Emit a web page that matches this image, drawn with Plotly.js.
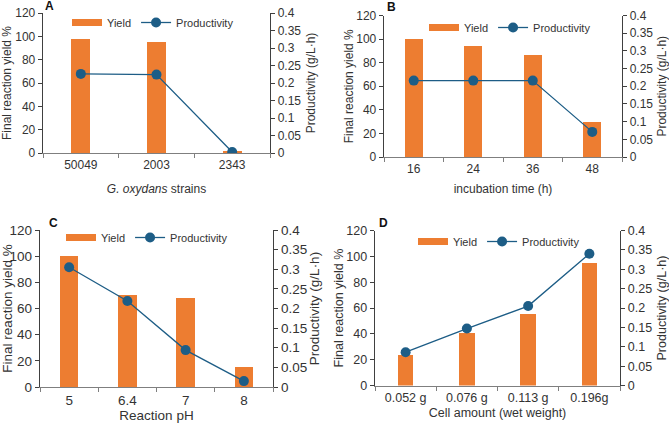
<!DOCTYPE html>
<html>
<head>
<meta charset="utf-8">
<script src="https://cdn.plot.ly/plotly-3.0.1.min.js"></script>
<style>html,body{margin:0;padding:0;background:#fff}#chart{width:669px;height:423px}</style>
</head>
<body>
<div id="chart"></div>
<script>
// ---- data ----
const catsA = ['50049', '2003', '2343'];
const yieldA = [97.7, 95.0, 1.5];
const prodA = [0.226, 0.224, 0.003];

const catsB = ['16', '24', '36', '48'];
const yieldB = [99.8, 94.4, 86.5, 29.5];
const prodB = [0.216, 0.216, 0.216, 0.071];

const catsC = ['5', '6.4', '7', '8'];
const yieldC = [100.2, 70.7, 67.7, 15.3];
const prodC = [0.305, 0.219, 0.094, 0.015];

const catsD = ['0.052 g', '0.076 g', '0.113 g', '0.196g'];
const yieldD = [23.5, 40.8, 55.2, 94.6];
const prodD = [0.086, 0.147, 0.205, 0.340];

const panelLabels = ['A', 'B', 'C', 'D'];
const xTitles = ['<i>G. oxydans</i> strains', 'incubation time (h)', 'Reaction pH', 'Cell amount (wet weight)'];
const yTitle = 'Final reaction yield %';
const y2Title = 'Productivity (g/L·h)';
const seriesNames = ['Yield', 'Productivity'];

// ---- style ----
const ORANGE = '#ED7D31';
const BLUE = '#1D5D86';
const FONT = 'Liberation Sans, Arial, sans-serif';

const W = 669, H = 423;
const px = v => v / W;
const py = v => 1 - v / H;

// plot areas in pixels [x0,x1,yTop,yBottom]
const boxes = [
  [43, 270, 13, 153],
  [384, 622, 15.5, 157],
  [40, 273, 230, 387],
  [375, 620, 230.5, 385.5]
];
const barWidths = [0.25, 0.3, 0.32, 0.25];
const fontSizes = [12, 12, 13.5, 12.5];
const xStandoff = [14, 10, 4, 4];
const yLStandoff = [6, 0, 6, 0];
const yRStandoff = [6, 6, 3, 6];
// legend [left px, top px]
const legendPos = [[67, 8], [424, 13], [61, 223], [413, 227]];
// panel label positions [left px, center y px]
const labelPos = [[43, 6], [385, 7], [47, 223], [377, 223]];

const panels = [
  [catsA, yieldA, prodA],
  [catsB, yieldB, prodB],
  [catsC, yieldC, prodC],
  [catsD, yieldD, prodD]
];

const data = [];
const layout = {
  width: W, height: H,
  margin: {l: 0, r: 0, t: 0, b: 0},
  paper_bgcolor: '#fff', plot_bgcolor: 'rgba(0,0,0,0)',
  font: {family: FONT, color: '#333', size: 12},
  showlegend: true,
  annotations: [],
  bargap: 0
};

panels.forEach((p, i) => {
  const [cats, yv, pv] = p;
  const n = i + 1;
  const xa = n === 1 ? 'x' : 'x' + n;
  const yl = (2 * i + 1 === 1) ? 'y' : 'y' + (2 * i + 1);
  const yr = 'y' + (2 * i + 2);
  const lg = n === 1 ? 'legend' : 'legend' + n;
  const fs = fontSizes[i];
  const b = boxes[i];

  data.push({
    type: 'bar', x: cats, y: yv, xaxis: xa, yaxis: yl, name: seriesNames[0],
    marker: {color: ORANGE, line: {width: 0}}, width: barWidths[i],
    showlegend: false, legendgroup: 'yield' + n, hoverinfo: 'skip'
  });
  // legend key for the bars (wide flat swatch, as in the original)
  data.push({
    type: 'scatter', mode: 'lines', x: [null], y: [null], xaxis: xa, yaxis: yl,
    name: seriesNames[0], line: {color: ORANGE, width: 7},
    legend: lg, legendgroup: 'yield' + n, hoverinfo: 'skip'
  });
  data.push({
    type: 'scatter', mode: 'lines+markers', x: cats, y: pv, xaxis: xa, yaxis: yr,
    name: seriesNames[1], line: {color: BLUE, width: 1.3},
    marker: {color: BLUE, size: 10}, legend: lg, hoverinfo: 'skip'
  });

  const xKey = n === 1 ? 'xaxis' : 'xaxis' + n;
  const ylKey = (2 * i + 1 === 1) ? 'yaxis' : 'yaxis' + (2 * i + 1);
  const yrKey = 'yaxis' + (2 * i + 2);

  layout[xKey] = {
    type: 'category', domain: [px(b[0]), px(b[1])], anchor: yl,
    showline: true, linecolor: '#7f7f7f', linewidth: 1.3,
    ticks: 'outside', tickson: 'boundaries', ticklen: 4, tickcolor: '#7f7f7f',
    showgrid: false, zeroline: false, range: [-0.5, cats.length - 0.5],
    tickfont: {size: fs, color: '#333'},
    title: {text: xTitles[i], font: {size: fs, color: '#333'}, standoff: xStandoff[i]},
    fixedrange: true
  };
  layout[ylKey] = {
    domain: [py(b[3]), py(b[2])], anchor: xa, range: [0, 120], dtick: 20,
    showline: true, linecolor: '#404040', linewidth: 1.3,
    ticks: 'outside', ticklen: 4, tickcolor: '#404040',
    showgrid: false, zeroline: false,
    tickfont: {size: fs, color: '#333'},
    title: {text: yTitle, font: {size: fs, color: '#333'}, standoff: yLStandoff[i]},
    fixedrange: true
  };
  layout[yrKey] = {
    overlaying: yl, side: 'right', anchor: xa, range: [0, 0.4], dtick: 0.05,
    showline: true, linecolor: '#404040', linewidth: 1.3,
    ticks: 'outside', ticklen: 4, tickcolor: '#404040',
    showgrid: false, zeroline: false,
    tickfont: {size: fs, color: '#333'},
    title: {text: y2Title, font: {size: fs, color: '#333'}, standoff: yRStandoff[i]},
    fixedrange: true
  };
  layout[lg] = {
    orientation: 'h', x: px(legendPos[i][0]), y: py(legendPos[i][1]),
    xanchor: 'left', yanchor: 'top', bgcolor: 'rgba(0,0,0,0)',
    font: {size: 11, color: '#333'},
    tracegroupgap: 0, traceorder: 'normal'
  };
  layout.annotations.push({
    text: '<b>' + panelLabels[i] + '</b>', xref: 'paper', yref: 'paper',
    x: px(labelPos[i][0]), y: py(labelPos[i][1]), xanchor: 'left', yanchor: 'middle',
    showarrow: false, font: {size: 12, color: '#111'}
  });
});

Plotly.newPlot('chart', data, layout, {staticPlot: true});
</script>
</body>
</html>
